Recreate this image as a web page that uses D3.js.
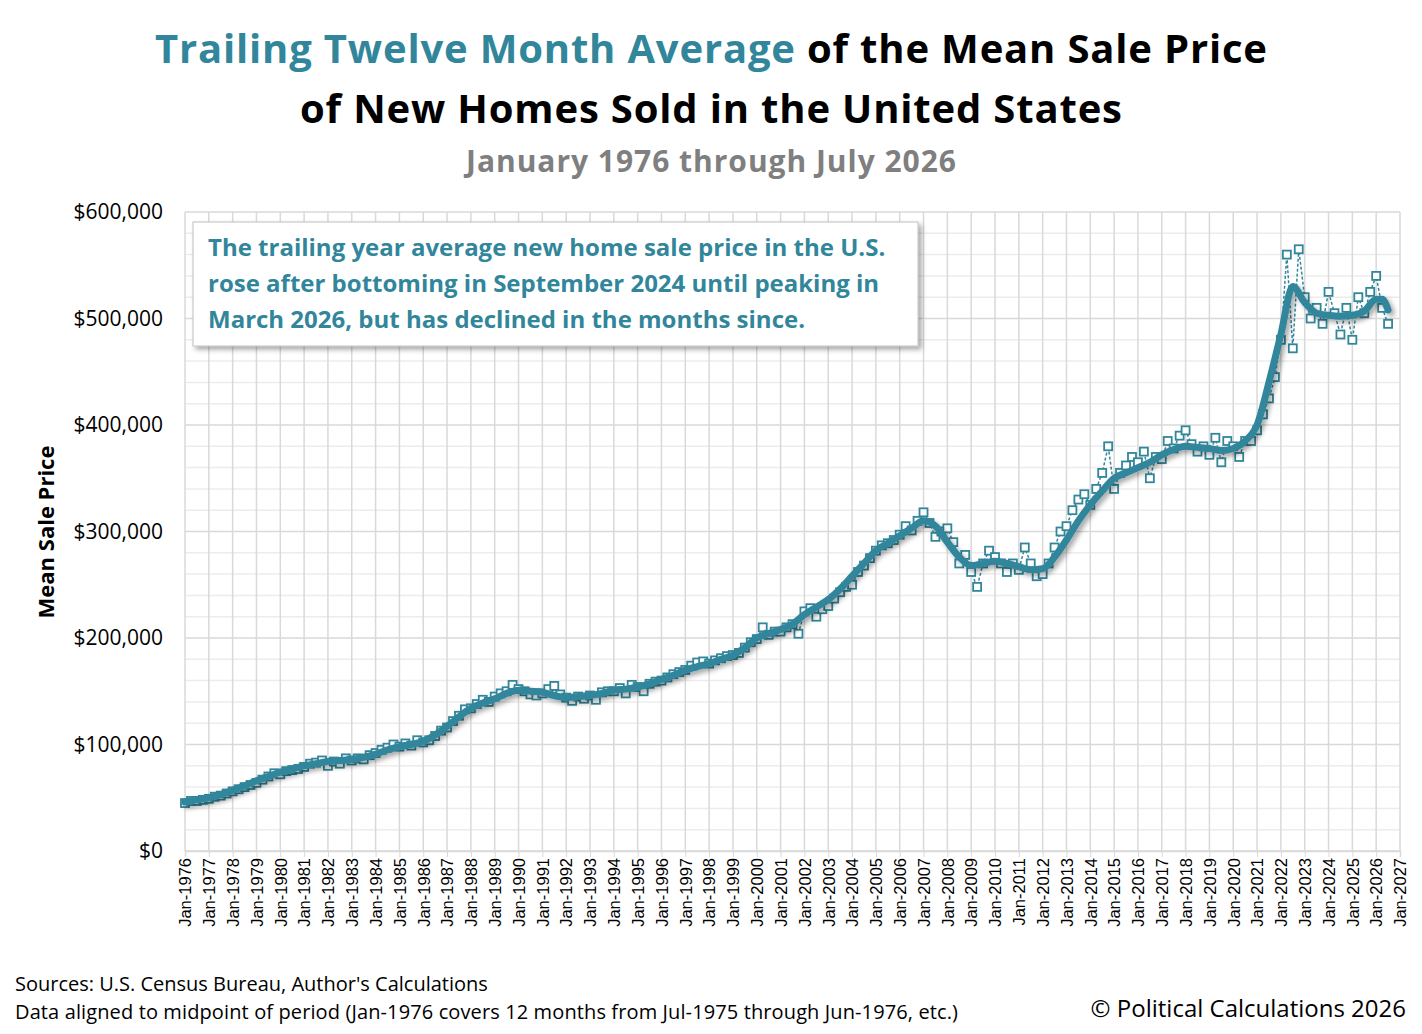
<!DOCTYPE html>
<html><head><meta charset="utf-8">
<script src="https://cdn.jsdelivr.net/npm/d3@7"></script>
<style>body{margin:0;background:#fff;font-family:"Open Sans",Calibri,sans-serif}</style>
</head><body><svg id="c" width="1422" height="1034"></svg>
<script>
// Trailing twelve-month average (thousands $), sampled semi-annually (Jan, Jul)
const avgYears = [1976,1976.5,1977,1977.5,1978,1978.5,1979,1979.5,1980,1980.5,1981,1981.5,1982,1982.5,1983,1983.5,1984,1984.5,1985,1985.5,1986,1986.5,1987,1987.5,1988,1988.5,1989,1989.5,1990,1990.5,1991,1991.5,1992,1992.5,1993,1993.5,1994,1994.5,1995,1995.5,1996,1996.5,1997,1997.5,1998,1998.5,1999,1999.5,2000,2000.5,2001,2001.5,2002,2002.5,2003,2003.5,2004,2004.5,2005,2005.5,2006,2006.5,2007,2007.5,2008,2008.5,2009,2009.5,2010,2010.5,2011,2011.5,2012,2012.5,2013,2013.5,2014,2014.5,2015,2015.5,2016,2016.5,2017,2017.5,2018,2018.5,2019,2019.5,2020,2020.5,2021,2021.5,2022,2022.5,2023,2023.5,2024,2024.5,2025,2025.5,2026,2026.25,2026.5];
const avgValues = [46,48,50,53,57,61,66,70,74,77,80,82,84,85,86,88,91,95,98,100,103,109,117,126,134,139,143,148,151,150,149,146,144,145,146,148,151,152,154,157,161,165,170,173,176,180,184,191,200,204,208,213,222,229,236,246,258,270,282,289,296,303,310,305,290,276,268,270,272,270,267,264,265,276,292,310,325,338,350,355,360,365,372,377,380,379,378,376,378,385,400,440,485,530,515,505,503,502,503,507,518,518,508];
// Monthly mean sale price readings (thousands $), sampled quarterly (Jan, Apr, Jul, Oct)
const rawStart = 1976;
const rawValues = [45,47,47,48, 49,51,52,54, 56,58,60,62, 64,67,70,73, 72,75,76,77, 79,82,83,85, 80,84,82,87, 85,87,86,90, 92,95,97,100, 98,101,99,104, 102,104,108,113, 116,122,127,133, 134,138,142,140, 145,148,150,156, 152,150,147,146, 148,152,155,147, 144,141,145,143, 146,142,149,150, 150,153,148,156, 154,150,157,159, 160,163,166,168, 170,174,177,178, 176,179,181,183, 184,186,191,196, 199,210,203,206, 206,210,213,204, 225,228,220,227, 230,237,243,248, 250,262,268,275, 282,287,289,292, 297,305,301,310, 318,308,295,300, 303,290,270,278, 262,248,270,282, 276,270,262,270, 264,285,270,258, 260,270,285,300, 305,320,330,335, 325,340,355,380, 340,355,362,370, 365,375,350,370, 368,385,378,390, 395,382,375,380, 372,388,365,385, 380,370,385,385, 395,410,425,445, 480,560,472,565, 520,500,510,495, 525,505,485,510, 480,520,505,525, 540,510,495];
const yTicks = [0,100,200,300,400,500,600];
const xTickYears = d3.range(1976, 2028);

const svg = d3.select("#c");
const color = "#31869b";
const L=185,R=1400,T=212,B=851;
const x = d3.scaleLinear().domain([1976,2027]).range([L,R]);
const y = d3.scaleLinear().domain([0,600]).range([B,T]);

const defs = svg.append("defs");
const f = defs.append("filter").attr("id","sh").attr("x","-10%").attr("y","-10%").attr("width","130%").attr("height","130%");
f.append("feDropShadow").attr("dx",3).attr("dy",3).attr("stdDeviation",2.5).attr("flood-color","#000").attr("flood-opacity",0.35);

// grid
svg.append("g").selectAll("line").data(d3.range(0,601,20).filter(v=>v%100)).join("line")
 .attr("x1",L).attr("x2",R).attr("y1",d=>y(d)).attr("y2",d=>y(d)).attr("stroke","#ececec").attr("stroke-width",1.5);
svg.append("g").selectAll("line").data(xTickYears).join("line")
 .attr("x1",d=>x(d)).attr("x2",d=>x(d)).attr("y1",T).attr("y2",B).attr("stroke","#d9d9d9").attr("stroke-width",1.5);
svg.append("g").selectAll("line").data(yTicks).join("line")
 .attr("x1",L).attr("x2",R).attr("y1",d=>y(d)).attr("y2",d=>y(d)).attr("stroke","#d9d9d9").attr("stroke-width",1.5);

// axes
const ya = svg.append("g").attr("transform",`translate(${L},0)`)
 .call(d3.axisLeft(y).tickValues(yTicks).tickSize(0).tickPadding(22).tickFormat(d=>"$"+d3.format(",")(d*1000)));
ya.select(".domain").remove();
ya.selectAll("text").attr("font-size",21).attr("fill","#000").attr("font-family","Open Sans");
const xa = svg.append("g").attr("transform",`translate(0,${B})`)
 .call(d3.axisBottom(x).tickValues(xTickYears).tickSize(6).tickFormat(d=>"Jan-"+d));
xa.select(".domain").attr("stroke","#d9d9d9").attr("stroke-width",1.5);
xa.selectAll(".tick line").attr("stroke","#d9d9d9");
xa.selectAll("text").attr("font-size",16.5).attr("fill","#000").attr("font-family","Liberation Sans")
 .attr("transform","rotate(-90)").attr("text-anchor","end").attr("dx","-7px").attr("dy","0.35em").attr("x",0).attr("y",0);

// raw series
const raw = rawValues.map((v,i)=>({t:rawStart+i*0.25,v}));
svg.append("path").datum(raw).attr("fill","none").attr("stroke",color).attr("stroke-width",1.5).attr("stroke-dasharray","3,2")
 .attr("d",d3.line().x(d=>x(d.t)).y(d=>y(d.v)));
svg.append("g").selectAll("rect").data(raw).join("rect")
 .attr("x",d=>x(d.t)-4).attr("y",d=>y(d.v)-4).attr("width",8).attr("height",8)
 .attr("fill","#fff").attr("stroke",color).attr("stroke-width",1.8);

// average
const avg = avgYears.map((t,i)=>({t,v:avgValues[i]}));
svg.append("path").datum(avg).attr("fill","none").attr("stroke",color).attr("stroke-width",7).attr("stroke-linejoin","round").attr("stroke-linecap","round")
 .attr("filter","url(#sh)").attr("d",d3.line().curve(d3.curveMonotoneX).x(d=>x(d.t)).y(d=>y(d.v)));

// y title
svg.append("text").attr("transform","translate(54,532) rotate(-90)").attr("text-anchor","middle")
 .attr("font-size",22).attr("font-weight","bold").text("Mean Sale Price");

// titles
const t1 = svg.append("text").attr("x",711).attr("y",63).attr("text-anchor","middle").attr("font-size",40).attr("font-weight","bold").attr("textLength",1112);
t1.append("tspan").attr("fill",color).text("Trailing Twelve Month Average");
t1.append("tspan").attr("fill","#000").text(" of the Mean Sale Price");
svg.append("text").attr("x",711).attr("y",123).attr("text-anchor","middle").attr("font-size",40).attr("font-weight","bold").attr("textLength",822).text("of New Homes Sold in the United States");
svg.append("text").attr("x",711).attr("y",172).attr("text-anchor","middle").attr("font-size",30).attr("font-weight","bold").attr("fill","#7f7f7f").attr("textLength",490).text("January 1976 through July 2026");

// annotation
svg.append("rect").attr("x",193).attr("y",222).attr("width",725).attr("height",124).attr("fill","#fff").attr("stroke","#bfbfbf").attr("filter","url(#sh)");
["The trailing year average new home sale price in the U.S.","rose after bottoming in September 2024 until peaking in","March 2026, but has declined in the months since."].forEach((s,i)=>
 svg.append("text").attr("x",208).attr("y",256+i*36).attr("font-size",24).attr("font-weight","bold").attr("fill",color).text(s));

// footer
svg.append("text").attr("x",15).attr("y",991).attr("font-size",20).text("Sources: U.S. Census Bureau, Author's Calculations");
svg.append("text").attr("x",15).attr("y",1019).attr("font-size",20).attr("textLength",943).text("Data aligned to midpoint of period (Jan-1976 covers 12 months from Jul-1975 through Jun-1976, etc.)");
svg.append("text").attr("x",1406).attr("y",1017).attr("text-anchor","end").attr("font-size",24).text("© Political Calculations 2026");
</script></body></html>
